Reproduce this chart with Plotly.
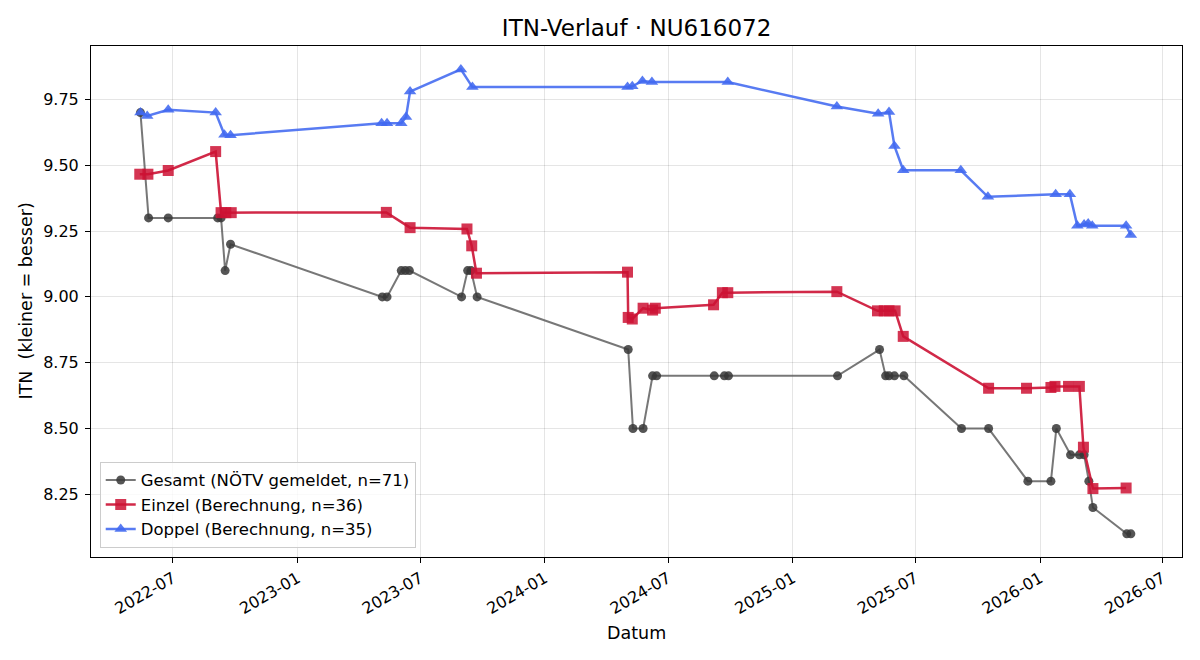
import plotly.graph_objects as go

# ---- data ----
gesamt_dates = ["2022-05-14", "2022-05-26", "2022-06-24", "2022-09-05", "2022-09-10", "2022-09-16",
                "2022-09-24", "2023-05-06", "2023-05-13", "2023-06-03", "2023-06-09", "2023-06-15",
                "2023-08-31", "2023-09-09", "2023-09-14", "2023-09-23", "2024-05-03", "2024-05-10",
                "2024-05-25", "2024-06-08", "2024-06-14", "2024-09-07", "2024-09-22", "2024-09-28",
                "2025-03-08", "2025-05-09", "2025-05-18", "2025-05-23", "2025-05-31", "2025-06-14",
                "2025-09-07", "2025-10-17", "2025-12-14", "2026-01-17", "2026-01-25", "2026-02-15",
                "2026-02-28", "2026-03-07", "2026-03-14", "2026-03-20", "2026-05-09", "2026-05-15"]
gesamt_vals = [9.70, 9.30, 9.30, 9.30, 9.30, 9.10,
               9.20, 9.00, 9.00, 9.10, 9.10, 9.10,
               9.00, 9.10, 9.10, 9.00, 8.80, 8.50,
               8.50, 8.70, 8.70, 8.70, 8.70, 8.70,
               8.70, 8.80, 8.70, 8.70, 8.70, 8.70,
               8.50, 8.50, 8.30, 8.30, 8.50, 8.40,
               8.40, 8.40, 8.30, 8.20, 8.10, 8.10]

einzel_dates = ["2022-05-13", "2022-05-25", "2022-06-24", "2022-09-02", "2022-09-10", "2022-09-17",
                "2022-09-25", "2023-05-12", "2023-06-16", "2023-09-08", "2023-09-15", "2023-09-22",
                "2024-05-02", "2024-05-03", "2024-05-09", "2024-05-25", "2024-06-08", "2024-06-12",
                "2024-09-06", "2024-09-19", "2024-09-27", "2025-03-07", "2025-05-06", "2025-05-16",
                "2025-05-23", "2025-06-01", "2025-06-13", "2025-10-17", "2025-12-12", "2026-01-17",
                "2026-01-23", "2026-02-12", "2026-02-28", "2026-03-06", "2026-03-20", "2026-05-08"]
einzel_vals = [9.466, 9.466, 9.48, 9.552, 9.32, 9.32,
               9.32, 9.321, 9.263, 9.258, 9.194, 9.09,
               9.094, 8.922, 8.916, 8.957, 8.95, 8.957,
               8.97, 9.016, 9.016, 9.02, 8.947, 8.947,
               8.947, 8.947, 8.85, 8.653, 8.653, 8.656,
               8.66, 8.66, 8.66, 8.429, 8.272, 8.274]

doppel_dates = ["2022-05-14", "2022-05-24", "2022-06-24", "2022-09-02", "2022-09-15", "2022-09-24",
                "2023-05-05", "2023-05-13", "2023-06-03", "2023-06-10", "2023-06-16", "2023-08-30",
                "2023-09-16", "2024-05-02", "2024-05-09", "2024-05-24", "2024-06-07", "2024-09-27",
                "2025-03-07", "2025-05-07", "2025-05-23", "2025-05-31", "2025-06-13", "2025-09-06",
                "2025-10-16", "2026-01-24", "2026-02-14", "2026-02-25", "2026-03-07", "2026-03-13",
                "2026-03-19", "2026-05-08", "2026-05-15"]
doppel_vals = [9.70, 9.687, 9.711, 9.70, 9.616, 9.614,
               9.66, 9.66, 9.66, 9.683, 9.78, 9.864,
               9.797, 9.797, 9.80, 9.82, 9.816, 9.816,
               9.723, 9.696, 9.702, 9.573, 9.481, 9.481,
               9.38, 9.39, 9.39, 9.27, 9.275, 9.279,
               9.27, 9.27, 9.235]

y_ticks = [8.25, 8.50, 8.75, 9.00, 9.25, 9.50, 9.75]

FONT = "DejaVu Sans"

fig = go.Figure()
fig.add_trace(go.Scatter(
    x=gesamt_dates, y=gesamt_vals, mode="lines+markers",
    name="Gesamt (NÖTV gemeldet, n=71)",
    line=dict(color="rgba(85,85,85,0.8)", width=2),
    marker=dict(symbol="circle", size=9, color="rgba(55,55,55,0.85)", line=dict(width=0)),
))
fig.add_trace(go.Scatter(
    x=einzel_dates, y=einzel_vals, mode="lines+markers",
    name="Einzel (Berechnung, n=36)",
    line=dict(color="rgba(204,18,52,0.9)", width=2.5),
    marker=dict(symbol="square", size=11, color="rgba(204,18,52,0.85)", line=dict(width=0)),
))
fig.add_trace(go.Scatter(
    x=doppel_dates, y=doppel_vals, mode="lines+markers",
    name="Doppel (Berechnung, n=35)",
    line=dict(color="rgba(65,105,240,0.88)", width=2.5),
    marker=dict(symbol="triangle-up", size=11, color="rgba(65,105,240,0.88)", line=dict(width=0)),
))

axis_common = dict(
    showline=True, linecolor="black", linewidth=1, mirror=True,
    ticks="outside", ticklen=5, tickcolor="black", tickwidth=1,
    showgrid=True, gridcolor="rgba(0,0,0,0.1)", gridwidth=1,
    zeroline=False, tickfont=dict(family=FONT, size=16, color="black"),
)

fig.update_layout(
    width=1200, height=660,
    margin=dict(l=91, r=18, t=46, b=103),
    paper_bgcolor="white", plot_bgcolor="white",
    font=dict(family=FONT, color="black"),
    title=dict(text="ITN-Verlauf · NU616072", x=0.5305, xanchor="center",
               y=1 - 28 / 660, yanchor="middle", font=dict(family=FONT, size=23, color="black")),
    xaxis=dict(axis_common, type="date", range=["2022-03-02", "2026-07-29 12:00"],
               tick0="2022-01-01", dtick="M6", tickformat="%Y-%m", tickangle=-30),
    yaxis=dict(axis_common, range=[8.012, 9.953], tickvals=y_ticks, tickformat=".2f",
               ticklabelstandoff=3),
    legend=dict(x=0.008, y=0.018, xanchor="left", yanchor="bottom",
                bgcolor="rgba(255,255,255,0.8)", bordercolor="#cccccc", borderwidth=1,
                font=dict(family=FONT, size=16.5, color="black"), tracegroupgap=2),
    showlegend=True,
    annotations=[
        dict(text="Datum", xref="paper", yref="paper", x=0.5, y=-(633 - 557) / 511,
             xanchor="center", yanchor="middle", showarrow=False,
             font=dict(family=FONT, size=17.5, color="black")),
        dict(text="ITN\u00a0 (kleiner = besser)", xref="paper", yref="paper",
             x=-(91 - 25) / 1091, y=0.5, xanchor="center", yanchor="middle",
             textangle=-90, showarrow=False, font=dict(family=FONT, size=17.5, color="black")),
    ],
)

fig.write_html("out.html")
